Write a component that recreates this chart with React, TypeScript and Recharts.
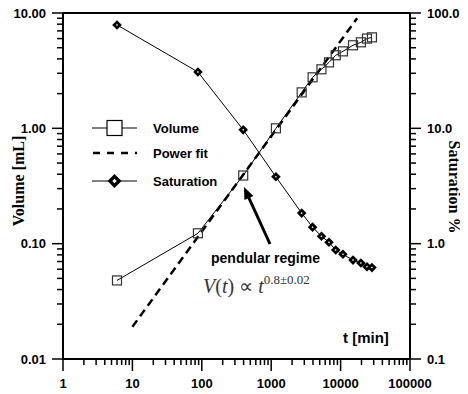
import React from 'react';
import { ComposedChart, Line, XAxis, YAxis, ReferenceLine } from 'recharts';

// ---- data ----
const timeMin = [6, 88, 395, 1170, 2750, 3950, 5300, 6800, 8500, 10800, 15100, 19600, 24000, 28300];
const volumeML = [0.048, 0.123, 0.39, 1.0, 2.05, 2.77, 3.25, 3.73, 4.3, 4.65, 5.25, 5.57, 6.0, 6.15];
const saturationPct = [78.8, 30.8, 9.7, 3.8, 1.84, 1.39, 1.16, 1.03, 0.88, 0.81, 0.72, 0.68, 0.63, 0.62];
const fitTime = [10, 17300];
const fitVolume = [0.019, 9.0];

// ---- ticks ----
const xMajorTicks = [1, 10, 100, 1000, 10000, 100000];
const xTickLabels = ['1', '10', '100', '1000', '10000', '100000'];
const leftMajorTicks = [0.01, 0.1, 1, 10];
const leftTickLabels = ['0.01', '0.10', '1.00', '10.00'];
const rightMajorTicks = [0.1, 1, 10, 100];
const rightTickLabels = ['0.1', '1.0', '10.0', '100.0'];
const minorMultipliers = [2, 3, 4, 5, 6, 7, 8, 9];

const withMinor = (majors: number[]) =>
  majors.flatMap((m, i) => (i < majors.length - 1 ? [m, ...minorMultipliers.map((k) => m * k)] : [m]));

const majorIndex = (majors: number[], v: number) =>
  majors.findIndex((m) => Math.abs(Math.log10(m) - Math.log10(v)) < 1e-6);

const volumeData = timeMin.map((t, i) => ({ t, v: volumeML[i] }));
const saturationData = timeMin.map((t, i) => ({ t, s: saturationPct[i] }));
const fitData = fitTime.map((t, i) => ({ t, v: fitVolume[i] }));

const SANS = '"Liberation Sans", Arial, sans-serif';
const SERIF = '"Liberation Serif", "Times New Roman", serif';

const LeftTick = (props: any) => {
  const { x, y, payload } = props;
  const idx = majorIndex(leftMajorTicks, payload.value);
  const major = idx >= 0;
  return (
    <g>
      <line x1={x} x2={x - (major ? 11 : 6)} y1={y} y2={y} stroke="#000" strokeWidth={1.5} />
      {major && (
        <text x={x - 17} y={y} dy="0.36em" textAnchor="end" fontFamily={SANS} fontWeight="bold" fontSize={13} fill="#000">
          {leftTickLabels[idx]}
        </text>
      )}
    </g>
  );
};

const RightTick = (props: any) => {
  const { x, y, payload } = props;
  const idx = majorIndex(rightMajorTicks, payload.value);
  const major = idx >= 0;
  return (
    <g>
      <line x1={x} x2={x + (major ? 11 : 6)} y1={y} y2={y} stroke="#000" strokeWidth={1.5} />
      {major && (
        <text x={x + 17} y={y} dy="0.36em" textAnchor="start" fontFamily={SANS} fontWeight="bold" fontSize={13} fill="#000">
          {rightTickLabels[idx]}
        </text>
      )}
    </g>
  );
};

const BottomTick = (props: any) => {
  const { x, y, payload } = props;
  const idx = majorIndex(xMajorTicks, payload.value);
  const major = idx >= 0;
  return (
    <g>
      <line x1={x} x2={x} y1={y} y2={y + (major ? 12 : 6)} stroke="#000" strokeWidth={1.5} />
      {major && (
        <text x={x} y={y + 24} dy="0.36em" textAnchor="middle" fontFamily={SANS} fontWeight="bold" fontSize={13} fill="#000">
          {xTickLabels[idx]}
        </text>
      )}
    </g>
  );
};

const SquareDot = (props: any) => {
  const { cx, cy, index } = props;
  if (cx == null || cy == null) return <g key={`sq-${index}`} />;
  return <rect key={`sq-${index}`} x={cx - 4.5} y={cy - 4.5} width={9} height={9} fill="none" stroke="#333" strokeWidth={1.2} />;
};

const DiamondDot = (props: any) => {
  const { cx, cy, index } = props;
  if (cx == null || cy == null) return <g key={`dm-${index}`} />;
  const r = 4.8;
  const w = 1.0;
  return (
    <g key={`dm-${index}`}>
      <polygon points={`${cx},${cy - r} ${cx + r},${cy} ${cx},${cy + r} ${cx - r},${cy}`} fill="#000" />
      <polygon points={`${cx},${cy - w} ${cx + w},${cy} ${cx},${cy + w} ${cx - w},${cy}`} fill="#fff" />
    </g>
  );
};

export default function App() {
  const W = 468;
  const H = 394;
  return (
    <div style={{ position: 'relative', width: W, height: H, marginTop: -8, marginLeft: -8 }}>
      <ComposedChart width={W} height={H} margin={{ top: 13, right: 0, bottom: 0, left: 0 }}>
        <XAxis
          xAxisId="x"
          dataKey="t"
          type="number"
          scale="log"
          domain={[1, 100000]}
          allowDataOverflow
          ticks={withMinor(xMajorTicks)}
          interval={0}
          height={35}
          tickSize={0}
          tickMargin={0}
          tickLine={false}
          tick={<BottomTick />}
          axisLine={{ stroke: '#000', strokeWidth: 2 }}
        />
        <YAxis
          yAxisId="left"
          orientation="left"
          type="number"
          scale="log"
          domain={[0.01, 10]}
          allowDataOverflow
          ticks={withMinor(leftMajorTicks)}
          interval={0}
          width={63}
          tickSize={0}
          tickMargin={0}
          tickLine={false}
          tick={<LeftTick />}
          axisLine={{ stroke: '#000', strokeWidth: 2 }}
        />
        <YAxis
          yAxisId="right"
          orientation="right"
          type="number"
          scale="log"
          domain={[0.1, 100]}
          allowDataOverflow
          ticks={withMinor(rightMajorTicks)}
          interval={0}
          width={58}
          tickSize={0}
          tickMargin={0}
          tickLine={false}
          tick={<RightTick />}
          axisLine={{ stroke: '#000', strokeWidth: 2 }}
        />
        <ReferenceLine xAxisId="x" yAxisId="left" y={10} stroke="#000" strokeWidth={2} />
        <Line
          xAxisId="x"
          yAxisId="left"
          data={fitData}
          dataKey="v"
          type="linear"
          stroke="#000"
          strokeWidth={2.5}
          strokeDasharray="8 5"
          dot={false}
          isAnimationActive={false}
        />
        <Line
          xAxisId="x"
          yAxisId="left"
          data={volumeData}
          dataKey="v"
          type="linear"
          stroke="#000"
          strokeWidth={1}
          dot={SquareDot}
          isAnimationActive={false}
        />
        <Line
          xAxisId="x"
          yAxisId="right"
          data={saturationData}
          dataKey="s"
          type="linear"
          stroke="#000"
          strokeWidth={1}
          dot={DiamondDot}
          isAnimationActive={false}
        />
      </ComposedChart>
      <svg
        width={W}
        height={H}
        style={{ position: 'absolute', left: 0, top: 0, pointerEvents: 'none' }}
      >
        {/* axis titles */}
        <text
          x={18}
          y={181}
          transform="rotate(-90 18 181)"
          textAnchor="middle"
          dy="0.36em"
          fontFamily={SERIF}
          fontWeight="bold"
          fontSize={16}
          fill="#000"
        >
          Volume [mL]
        </text>
        <text
          x={455}
          y={187}
          transform="rotate(90 455 187)"
          textAnchor="middle"
          dy="0.36em"
          fontFamily={SERIF}
          fontWeight="bold"
          fontSize={16}
          fill="#000"
        >
          Saturation %
        </text>
        <text x={343} y={338} dy="0.36em" fontFamily={SANS} fontWeight="bold" fontSize={15} fill="#000">
          t [min]
        </text>

        {/* legend */}
        <line x1={92} x2={137} y1={128} y2={128} stroke="#000" strokeWidth={1} />
        <rect x={107} y={120.5} width={15} height={15} fill="#fff" stroke="#000" strokeWidth={1.2} />
        <text x={153} y={128} dy="0.36em" fontFamily={SANS} fontWeight="bold" fontSize={13} fill="#000">
          Volume
        </text>
        <line x1={93} x2={137} y1={153} y2={153} stroke="#000" strokeWidth={2.5} strokeDasharray="7 7" />
        <text x={153} y={153} dy="0.36em" fontFamily={SANS} fontWeight="bold" fontSize={13} fill="#000">
          Power fit
        </text>
        <line x1={92} x2={137} y1={181} y2={181} stroke="#000" strokeWidth={1} />
        <polygon points="114.5,174 121.5,181 114.5,188 107.5,181" fill="#000" />
        <polygon points="114.5,178.8 116.7,181 114.5,183.2 112.3,181" fill="#fff" />
        <text x={153} y={181} dy="0.36em" fontFamily={SANS} fontWeight="bold" fontSize={13} fill="#000">
          Saturation
        </text>

        {/* annotation */}
        <line x1={270} y1={244} x2={248.5} y2={197} stroke="#000" strokeWidth={3} />
        <polygon points="244,187 253.5,195.9 244.4,200.1" fill="#000" />
        <text x={211} y={258} dy="0.36em" fontFamily={SANS} fontWeight="bold" fontSize={14} fill="#000">
          pendular regime
        </text>
        <text x={203} y={293} fontFamily={SERIF} fontSize={20} fill="#333">
          <tspan fontStyle="italic">V</tspan>
          <tspan>(</tspan>
          <tspan fontStyle="italic">t</tspan>
          <tspan>) ∝ </tspan>
          <tspan fontStyle="italic">t</tspan>
          <tspan fontSize={13} dy={-9}>0.8±0.02</tspan>
        </text>
      </svg>
    </div>
  );
}
